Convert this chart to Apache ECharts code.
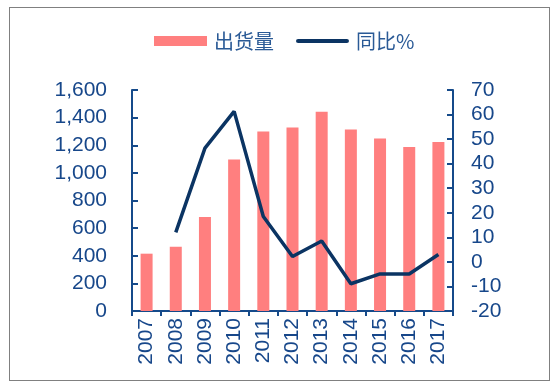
<!DOCTYPE html>
<html>
<head>
<meta charset="utf-8">
<script src="https://cdn.jsdelivr.net/npm/echarts@6/dist/echarts.min.js"></script>
<style>
html,body{margin:0;padding:0;background:#fff;}
#frame{position:absolute;left:9px;top:7px;width:539px;height:372px;border:1px solid #808080;}
#main{position:absolute;left:0;top:0;width:560px;height:386px;}
</style>
</head>
<body>
<div id="frame"></div>
<div id="main"></div>
<script>
const categories = ['2007','2008','2009','2010','2011','2012','2013','2014','2015','2016','2017'];
const shipments = [415, 465, 680, 1096, 1300, 1329, 1442, 1314, 1249, 1188, 1224];
const yoy = [null, 12, 46.3, 61.3, 18.5, 2.2, 8.5, -8.9, -4.9, -4.9, 3.0];
const leftTicks = {min: 0, max: 1600, interval: 200};
const rightTicks = {min: -20, max: 70, interval: 10};

const axisColor = '#154a8a';
const textColor = '#17478a';
const chart = echarts.init(document.getElementById('main'), null, {renderer: 'canvas'});
chart.setOption({
  animation: false,
  legend: {
    left: 154, top: 31, padding: 0,
    itemWidth: 53, itemHeight: 10, itemGap: 22,
    textStyle: {fontFamily: 'Noto Sans CJK SC', fontSize: 20, color: '#2a5a96', padding: [0,0,0,2]},
    data: [
      {name: '出货量', icon: 'rect'},
      {name: '同比%', icon: 'path://M4,0 H96 A4,4 0 0 1 96,8 H4 A4,4 0 0 1 4,0 Z'}
    ]
  },
  grid: {left: 132, right: 107, top: 90, bottom: 75, containLabel: false},
  xAxis: {
    type: 'category',
    data: categories,
    boundaryGap: true,
    axisLine: {lineStyle: {color: axisColor, width: 2}},
    axisTick: {show: true, inside: false, length: 5, lineStyle: {color: axisColor, width: 2}},
    axisLabel: {rotate: 90, margin: 7, fontFamily: 'Liberation Sans', fontSize: 21, color: textColor}
  },
  yAxis: [
    {
      type: 'value', min: leftTicks.min, max: leftTicks.max, interval: leftTicks.interval,
      splitLine: {show: false},
      axisLine: {show: true, lineStyle: {color: axisColor, width: 2}},
      axisTick: {show: true, inside: true, length: 6, lineStyle: {color: axisColor, width: 2}},
      axisLabel: {margin: 25, fontFamily: 'Liberation Sans', fontSize: 21, color: textColor,
        formatter: v => v.toLocaleString('en-US')}
    },
    {
      type: 'value', position: 'right', min: rightTicks.min, max: rightTicks.max, interval: rightTicks.interval,
      splitLine: {show: false},
      axisLine: {show: true, lineStyle: {color: axisColor, width: 2}},
      axisTick: {show: true, inside: true, length: 6, lineStyle: {color: axisColor, width: 2}},
      axisLabel: {margin: 18, fontFamily: 'Liberation Sans', fontSize: 21, color: textColor}
    }
  ],
  series: [
    {
      name: '出货量', type: 'bar', data: shipments, barWidth: 12,
      itemStyle: {color: '#ff7f7f'}
    },
    {
      name: '同比%', type: 'line', yAxisIndex: 1, data: yoy,
      symbol: 'none', connectNulls: false,
      lineStyle: {color: '#0b3463', width: 3.5},
      itemStyle: {color: '#0b3463'}
    }
  ]
});
</script>
</body>
</html>
